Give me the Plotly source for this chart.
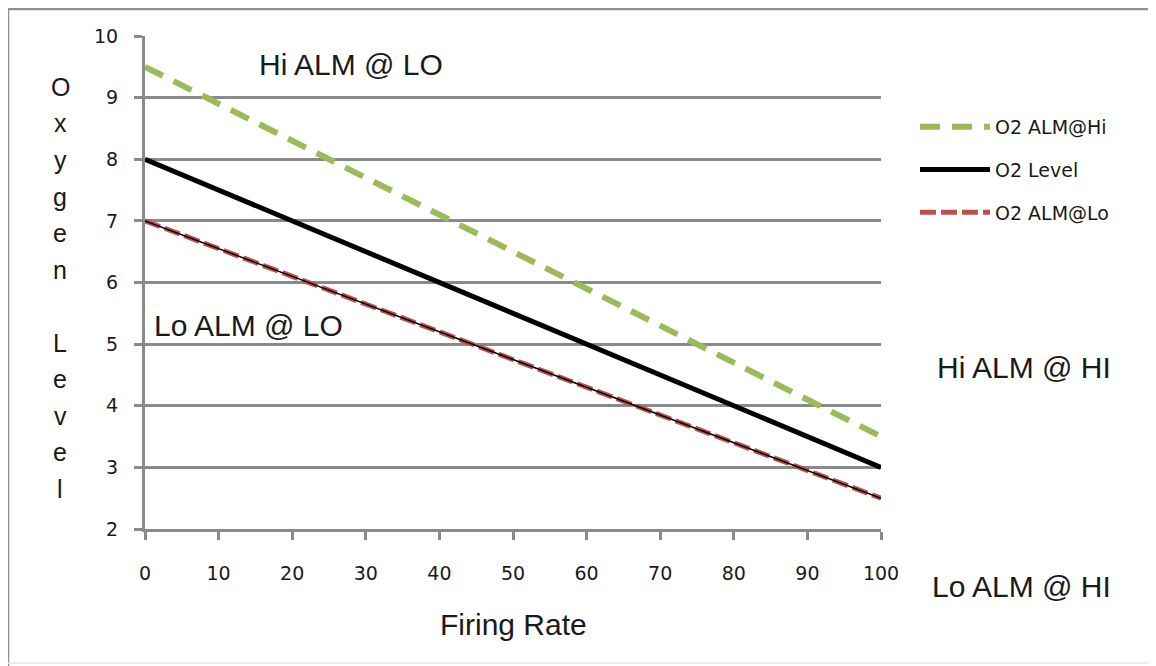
import plotly.graph_objects as go

# ---- data ----
firing_rate = [0, 100]
o2_alm_hi = [9.5, 3.5]
o2_level = [8.0, 3.0]
o2_alm_lo = [7.0, 2.5]

x_ticks = [0, 10, 20, 30, 40, 50, 60, 70, 80, 90, 100]
y_ticks = [2, 3, 4, 5, 6, 7, 8, 9, 10]

y_title_letters = ["O", "x", "y", "g", "e", "n", "", "L", "e", "v", "e", "l"]

region_labels = ["Hi ALM @ LO", "Lo ALM @ LO", "Hi ALM @ HI", "Lo ALM @ HI"]

# ---- layout geometry (pixels, page coords; page body has an 8px margin) ----
OFF = 8
W, H = 1156 - OFF, 666 - OFF
L, R, T, B = 145 - OFF, 881 - OFF, 36 - OFF, 529 - OFF
PW, PH = R - L, B - T


def px(xp):
    return (xp - OFF - L) / PW


def py(yp):
    return (B - (yp - OFF)) / PH


GREEN = "#9BBB59"
RED = "#C0504D"
GRID = "#8a8a8a"
TXT = "#1a1a1a"

fig = go.Figure()
fig.add_trace(go.Scatter(x=firing_rate, y=o2_alm_hi, mode="lines", name="O2 ALM@Hi",
                         legendgroup="a",
                         line=dict(color=GREEN, width=6, dash="20px,12px")))
fig.add_trace(go.Scatter(x=firing_rate, y=o2_level, mode="lines", name="O2 Level",
                         legendgroup="b",
                         line=dict(color="black", width=5)))
fig.add_trace(go.Scatter(x=firing_rate, y=o2_alm_lo, mode="lines", name="O2 ALM@Lo",
                         legendgroup="c",
                         line=dict(color=RED, width=5, dash="16px,5px")))
fig.add_trace(go.Scatter(x=firing_rate, y=o2_alm_lo, mode="lines", showlegend=False,
                         legendgroup="c",
                         line=dict(color="black", width=1.5)))

annotations = []
# region labels
pos = [(257, 64), (152, 325), (935, 367), (930, 586)]
for txt, (xp, yp) in zip(region_labels, pos):
    annotations.append(dict(x=px(xp), y=py(yp), xref="paper", yref="paper",
                            text=txt, showarrow=False, xanchor="left", yanchor="middle",
                            font=dict(family="Liberation Sans, Arial", size=30, color=TXT)))
# x axis title
annotations.append(dict(x=px(513), y=py(624), xref="paper", yref="paper",
                        text="Firing Rate", showarrow=False, xanchor="center", yanchor="middle",
                        font=dict(family="Liberation Sans, Arial", size=30, color=TXT)))
# stacked y axis title
for i, ch in enumerate(y_title_letters):
    if not ch:
        continue
    annotations.append(dict(x=px(60), y=py(87 + 36.5 * i), xref="paper", yref="paper",
                            text=ch, showarrow=False, xanchor="center", yanchor="middle",
                            font=dict(family="Liberation Sans, Arial", size=25, color=TXT)))

# outer frame: top and left edges, faint bottom edge
shapes = [
    dict(type="line", xref="paper", yref="paper", x0=px(8), x1=px(1160), y0=py(9), y1=py(9),
         line=dict(color="#8f8f8f", width=2.5), layer="below"),
    dict(type="line", xref="paper", yref="paper", x0=px(8), x1=px(8), y0=py(9), y1=py(670),
         line=dict(color="#8f8f8f", width=2.5), layer="below"),
    dict(type="line", xref="paper", yref="paper", x0=px(8), x1=px(1160), y0=py(663), y1=py(663),
         line=dict(color="#e6e6e6", width=1.5), layer="below"),
]

fig.update_layout(
    width=W, height=H,
    margin=dict(l=L, r=W - R, t=T, b=H - B),
    paper_bgcolor="white", plot_bgcolor="white",
    showlegend=True,
    legend=dict(x=px(915), y=py(108), xanchor="left", yanchor="top",
                font=dict(family="DejaVu Sans", size=19, color=TXT),
                itemwidth=70, tracegroupgap=15, bgcolor="rgba(0,0,0,0)"),
    annotations=annotations,
    shapes=shapes,
    xaxis=dict(range=[0, 100], tickvals=x_ticks, ticktext=[str(v) for v in x_ticks],
               showgrid=False, zeroline=False,
               showline=True, linecolor=GRID, linewidth=3,
               ticks="outside", ticklen=8, tickwidth=2.5, tickcolor=GRID,
               ticklabelstandoff=17,
               tickfont=dict(family="DejaVu Sans", size=19, color=TXT)),
    yaxis=dict(range=[2, 10], tickvals=y_ticks, ticktext=[str(v) for v in y_ticks],
               showgrid=True, gridcolor=GRID, gridwidth=2.5, zeroline=False,
               showline=True, linecolor=GRID, linewidth=3,
               ticks="outside", ticklen=8, tickwidth=2.5, tickcolor=GRID,
               ticklabelstandoff=12,
               tickfont=dict(family="DejaVu Sans", size=19, color=TXT)),
)

fig.write_html("out.html")
